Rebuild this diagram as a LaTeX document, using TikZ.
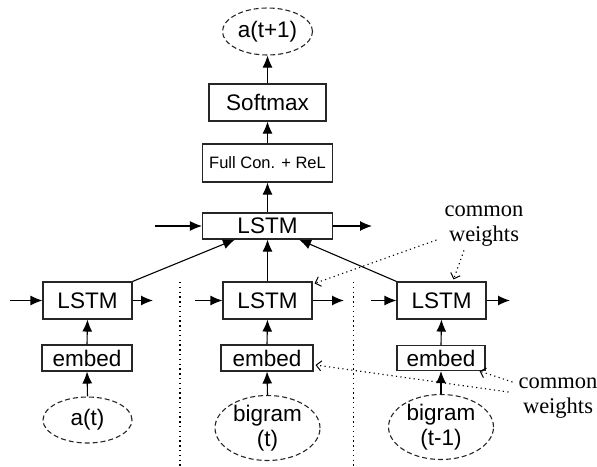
\documentclass[tikz,border=0pt]{standalone}
\usepackage{fontspec}
\setmainfont{Liberation Sans}
\newfontfamily\tms{Liberation Serif}
\usetikzlibrary{shapes.geometric,arrows.meta,calc}
\tikzset{
  box/.style={draw=black!85, line width=1.1pt, rectangle, inner sep=0pt, font=\fontsize{22.5}{25}\selectfont},
  oval/.style={draw=black!85, line width=1.1pt, ellipse, dash pattern=on 5pt off 3pt, inner sep=0pt, align=center, font=\fontsize{22.5}{25}\selectfont},
  arr/.style={line width=1.1pt, -{Latex[length=12pt,width=10pt]}},
  dotarr/.style={line width=1.1pt, dash pattern=on 1.2pt off 3.3pt, -{Straight Barb[length=5pt,width=10pt,line width=1pt]}},
  sep/.style={line width=1.3pt, dash pattern=on 1.3pt off 3.5pt},
  note/.style={align=center, font=\tms\fontsize{22.5}{25}\selectfont, inner sep=0pt},
}
\begin{document}
\begin{tikzpicture}[x=1pt,y=-1pt]
\useasboundingbox (0,0) rectangle (597,466);
% nodes
\node[oval, minimum width=90pt, minimum height=47pt] (out) at (267.5,31.5) {a(t+1)};
\node[box, minimum width=117pt, minimum height=37pt] (soft) at (267.5,102.5) {Softmax};
\node[box, minimum width=130pt, minimum height=38pt, font=\fontsize{16.5}{19}\selectfont] (fc) at (267.5,163) {Full Con. + ReL};
\node[box, minimum width=130pt, minimum height=26pt] (top) at (267.5,226) {LSTM};
\node[box, minimum width=89pt, minimum height=37pt] (l1) at (87.5,300.5) {LSTM};
\node[box, minimum width=89pt, minimum height=37pt] (m1) at (267.5,300.5) {LSTM};
\node[box, minimum width=89pt, minimum height=37pt] (r1) at (441.5,300.5) {LSTM};
\node[box, minimum width=90pt, minimum height=26pt] (le) at (87,358) {embed};
\node[box, minimum width=92pt, minimum height=26pt] (me) at (267,358) {embed};
\node[box, minimum width=88pt, minimum height=25pt] (re) at (441,358) {embed};
\node[oval, minimum width=89pt, minimum height=46pt] (la) at (87.5,420) {a(t)};
\node[oval, minimum width=105pt, minimum height=62pt] (mb) at (267.5,428) {bigram\\(t)};
\node[oval, minimum width=105pt, minimum height=60pt] (rb) at (441,427) {bigram\\(t-1)};
\node[note] (cw1) at (484,226) {common\\weights};
\node[note] (cw2) at (558,398) {common\\weights};
% free ends
\coordinate (tin) at (155,226);
\coordinate (tout) at (372,226);
\coordinate (lin) at (10,300.5);
\coordinate (lout) at (153,300.5);
\coordinate (min) at (195,300.5);
\coordinate (mout) at (344,300.5);
\coordinate (rin) at (371,300.5);
\coordinate (rout) at (510,300.5);
% vertical flow
\draw[arr] (soft.north) -- (out.south);
\draw[arr] (fc.north) -- (soft.south);
\draw[arr] (top.north) -- (fc.south);
\draw[arr] (m1.north) -- (top.south);
\draw[arr] (l1.north east) -- ($(top.south west)+(33,0)$);
\draw[arr] (r1.north west) -- ($(top.south east)+(-34,0)$);
\draw[arr] (le.north) -- (l1.south);
\draw[arr] (me.north) -- (m1.south);
\draw[arr] (re.north) -- (r1.south);
\draw[arr] (la.north) -- (le.south);
\draw[arr] (mb.north) -- (me.south);
\draw[arr] (rb.north) -- (re.south);
% horizontal recurrences
\draw[arr] (tin) -- (top.west);
\draw[arr] (top.east) -- (tout);
\draw[arr] (lin) -- (l1.west);
\draw[arr] (l1.east) -- (lout);
\draw[arr] (min) -- (m1.west);
\draw[arr] (m1.east) -- (mout);
\draw[arr] (rin) -- (r1.west);
\draw[arr] (r1.east) -- (rout);
% separators
\draw[sep] (180,282) -- (180,466);
\draw[sep] (353.7,282) -- (353.7,466);
% common weights
\draw[dotarr] ($(cw1.west)+(-8,14)$) -- ($(m1.north east)+(2,2)$);
\draw[dotarr] ($(cw1.south)+(-20,4)$) -- ($(r1.north)+(12,-2)$);
\draw[dotarr] ($(cw2.west)+(-6,-16)$) -- ($(re.south east)+(-6,0)$);
\draw[dotarr] ($(cw2.west)+(-10,-6)$) -- ($(me.east)+(2,7)$);
\end{tikzpicture}
\end{document}
